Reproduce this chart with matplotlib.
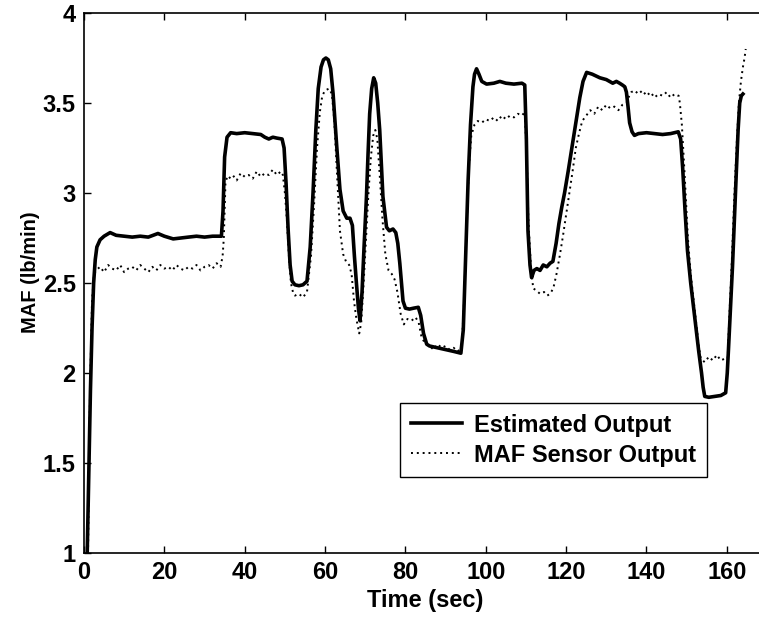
import matplotlib
matplotlib.use("Agg")
import matplotlib.pyplot as plt
from matplotlib.ticker import FuncFormatter

# ---------------- data ----------------
est_t = [0.8, 1.2, 1.6, 2.0, 2.4, 2.8, 3.2, 4.0, 5.0, 6.5, 8, 10, 12, 14, 16, 18.4, 20, 22.2, 24, 26, 28, 30, 32,
         34.2, 34.6, 35.0, 35.6, 36.5, 38, 40, 42, 44, 45, 46, 47, 48, 49.3, 49.8, 50.3, 50.8, 51.3, 51.8, 52.5,
         53.5, 54.5, 55.5, 56.3, 57.0, 57.7, 58.3, 59.0, 59.6, 60.2, 60.8, 61.4, 62.0, 62.9, 63.7, 64.5, 65.4,
         66.2, 66.8, 67.3, 67.8, 68.3, 68.7, 69.2, 69.7, 70.3, 70.7, 71.1, 71.6, 72.1, 72.6, 73.1, 73.6, 74.4,
         75.3, 76.0, 76.9, 77.6, 78.1, 78.6, 79.4, 80.0, 81, 82, 83.2, 83.8, 84.5, 85.3, 86, 88, 90, 92, 93.8,
         94.4, 95.0, 95.6, 96.2, 96.8, 97.2, 97.7, 98.3, 99.0, 100.2, 102, 103.5, 105, 107, 109.0, 109.7, 110.1,
         110.5, 111.0, 111.4, 112, 112.7, 113.5, 114.3, 115.2, 116.0, 116.7, 117.5, 118.2, 118.9, 119.6, 120.5,
         121.7, 122.6, 123.4, 124.2, 125.1, 126.5, 128.4, 130, 131.6, 132.5, 133.3, 134.0, 134.6, 135.0, 135.4,
         135.8, 136.4, 137.0, 138, 140, 142, 144, 146, 147.9, 148.5, 149.0, 149.6, 150.2, 151.0, 152.0, 153.0,
         153.7, 154.1, 154.5, 155.5, 157, 158.5, 159.7, 160.1, 160.4, 160.9, 161.4, 161.9, 162.4, 162.8, 163.2,
         163.6, 164.0]
est_v = [1.0, 1.45, 1.9, 2.25, 2.5, 2.63, 2.7, 2.74, 2.76, 2.78, 2.765, 2.76, 2.755, 2.76, 2.755, 2.775, 2.76,
         2.745, 2.75, 2.755, 2.76, 2.755, 2.76,
         2.76, 2.9, 3.2, 3.31, 3.335, 3.33, 3.335, 3.33, 3.325, 3.31, 3.30, 3.31, 3.305, 3.30, 3.25, 3.05, 2.8,
         2.6, 2.51, 2.49,
         2.485, 2.49, 2.51, 2.7, 3.0, 3.35, 3.58, 3.7, 3.74, 3.75, 3.74, 3.69, 3.55, 3.26, 3.02, 2.9, 2.86,
         2.86, 2.82, 2.65, 2.5, 2.36, 2.29, 2.45, 2.7, 2.98, 3.22, 3.44, 3.58, 3.64, 3.61, 3.5, 3.35, 2.98,
         2.81, 2.79, 2.80, 2.78, 2.72, 2.61, 2.40, 2.36, 2.355, 2.36, 2.365, 2.32, 2.22, 2.16, 2.15, 2.14, 2.13,
         2.12, 2.11,
         2.24, 2.65, 3.07, 3.38, 3.59, 3.66, 3.69, 3.66, 3.62, 3.605, 3.61, 3.62, 3.61, 3.605, 3.61, 3.60, 3.3,
         2.79, 2.6, 2.53, 2.57, 2.58, 2.57, 2.60, 2.59, 2.61, 2.62, 2.72, 2.83, 2.92, 3.0, 3.12,
         3.29, 3.42, 3.53, 3.62, 3.67, 3.66, 3.64, 3.63, 3.61, 3.62, 3.61, 3.60, 3.59, 3.56, 3.48,
         3.39, 3.34, 3.32, 3.33, 3.335, 3.33, 3.325, 3.33, 3.34, 3.30, 3.14, 2.9, 2.68, 2.5, 2.31, 2.12,
         2.0, 1.92, 1.87, 1.865, 1.87, 1.875, 1.89, 2.0, 2.13, 2.36, 2.59, 2.87, 3.14, 3.35, 3.5,
         3.54, 3.55]

sen_t = [1.0, 1.5, 2.0, 2.5, 3, 4, 5, 6, 7, 8, 9, 10, 11, 12, 13, 14, 15, 16, 17, 18, 19, 20, 21, 22, 23, 24,
         25, 26, 27, 28, 29, 30, 31, 32, 33, 34, 34.5, 34.8, 35.2, 35.6, 36, 37, 38, 39, 40, 41, 42, 43, 44, 45,
         46, 47, 48, 49, 49.5, 50, 50.5, 51, 51.5, 52, 52.5, 53.5, 54.5, 55.5, 56.5, 57.3, 58, 58.7, 59.3, 60,
         61, 61.7, 62.3, 63, 63.7, 64.5, 65.2, 66, 66.6, 67.2, 67.8, 68.5, 69, 69.6, 70.2, 70.8, 71.4, 72, 72.5,
         73, 73.6, 74.3, 75, 75.8, 76.6, 77.3, 78, 78.8, 79.6, 80.5, 81.5, 82.5, 83.3, 84, 85, 86, 87, 88, 89,
         90, 91, 92, 93, 94, 94.6, 95.2, 95.8, 96.4, 97.2, 98, 99, 100, 101, 102, 103, 104, 105, 106, 107, 108,
         109, 109.7, 110.2, 110.6, 111.2, 111.8, 112.5, 113.5, 114.5, 115.3, 116, 116.8, 117.6, 118.4, 119.2,
         120, 120.8, 121.6, 122.4, 123.2, 124, 125, 126, 127, 128, 129, 130, 131, 132, 133, 134, 135, 135.5,
         136.2, 137, 138, 139, 140, 141, 142, 143, 144, 145, 146, 147, 148, 148.3, 148.8, 149.5, 150.3, 151,
         152, 153, 153.5, 154.5, 155.5, 156.5, 157.5, 158.5, 159.5, 160.2, 160.6, 161.2, 161.8, 162.4, 163,
         163.5, 164, 164.4, 164.7]
sen_v = [1.0, 1.9, 2.4, 2.55, 2.57, 2.59, 2.56, 2.60, 2.58, 2.57, 2.60, 2.56, 2.58, 2.59, 2.57, 2.60, 2.58,
         2.56, 2.59, 2.57, 2.60, 2.58, 2.59, 2.57, 2.60, 2.58, 2.57, 2.59, 2.58, 2.60, 2.57, 2.59, 2.60, 2.58,
         2.61, 2.59, 2.65, 2.75, 3.05, 3.09, 3.08, 3.10, 3.07, 3.11, 3.09, 3.10, 3.08, 3.12, 3.09, 3.11, 3.10,
         3.13, 3.10, 3.12, 3.10, 3.0, 2.85, 2.65, 2.5, 2.45, 2.43, 2.44, 2.42, 2.45, 2.65, 2.95, 3.25, 3.45,
         3.54, 3.57, 3.58, 3.55, 3.4, 3.1, 2.79, 2.66, 2.62, 2.6, 2.55, 2.4, 2.3, 2.22, 2.28, 2.5, 2.75, 3.0,
         3.2, 3.32, 3.35, 3.3, 3.1, 2.85, 2.66, 2.57, 2.55, 2.52, 2.45, 2.33, 2.27, 2.3, 2.29, 2.31, 2.28, 2.2,
         2.16, 2.15, 2.13, 2.16, 2.14, 2.15, 2.13, 2.14, 2.12, 2.14, 2.4, 2.8, 3.15, 3.32, 3.38, 3.40, 3.39,
         3.41, 3.40, 3.42, 3.40, 3.43, 3.41, 3.43, 3.42, 3.44, 3.43, 3.45, 3.2, 2.85, 2.6, 2.47, 2.46, 2.44,
         2.45, 2.43, 2.44, 2.47, 2.55, 2.65, 2.76, 2.88, 3.0, 3.12, 3.25, 3.33, 3.4, 3.43, 3.46, 3.44, 3.48,
         3.46, 3.49, 3.47, 3.48, 3.46, 3.49, 3.5, 3.53, 3.56, 3.57, 3.55, 3.57, 3.54, 3.56, 3.53, 3.55, 3.54,
         3.56, 3.53, 3.55, 3.54, 3.5, 3.38, 3.1, 2.75, 2.55, 2.35, 2.15, 2.08, 2.06, 2.09, 2.07, 2.10, 2.07,
         2.08, 2.08, 2.3, 2.6, 2.95, 3.25, 3.5, 3.62, 3.7, 3.75, 3.8]

x_ticks = [0, 20, 40, 60, 80, 100, 120, 140, 160]
y_ticks = [1, 1.5, 2, 2.5, 3, 3.5, 4]
labels = ["Estimated Output", "MAF Sensor Output"]
x_label = "Time (sec)"
y_label = "MAF (lb/min)"

# ---------------- plot ----------------
plt.rcParams['font.family'] = ['Liberation Sans', 'DejaVu Sans']
plt.rcParams['font.weight'] = 'bold'

fig = plt.figure(figsize=(7.59, 6.18), dpi=100)
ax = fig.add_axes([84 / 759, 65 / 618, 675 / 759, 540 / 618])

ax.plot(est_t, est_v, color='black', lw=2.6, solid_joinstyle='round', label=labels[0])
ax.plot(sen_t, sen_v, color='black', lw=1.4, linestyle=(0, (1, 2.0)), label=labels[1])

ax.set_xlim(0, 168)
ax.set_ylim(1, 4)
ax.set_xticks(x_ticks)
ax.set_yticks(y_ticks)
ax.yaxis.set_major_formatter(FuncFormatter(lambda v, p: f"{v:g}"))
ax.tick_params(direction='in', length=5, width=1, top=True, right=False,
               labelsize=17, pad=6)
for lab in ax.get_xticklabels() + ax.get_yticklabels():
    lab.set_fontweight('bold')
for s in ['left', 'bottom', 'top']:
    ax.spines[s].set_linewidth(1.2)
ax.spines['right'].set_visible(False)

ax.set_xlabel(x_label, fontsize=17, fontweight='bold', va='center')
ax.set_ylabel(y_label, fontsize=14.5, fontweight='bold', va='center')
ax.xaxis.set_label_coords((425 - 84) / 675, (553 - 600) / 540)
ax.yaxis.set_label_coords((30 - 84) / 675, (553 - 272) / 540)

leg = ax.legend(loc='upper left', bbox_to_anchor=(0.468, 0.278), borderaxespad=0,
                fancybox=False, edgecolor='black', framealpha=1,
                prop={'size': 17, 'weight': 'bold'}, handlelength=2.2,
                handletextpad=0.5, borderpad=0.45, labelspacing=0.3)
leg.get_frame().set_linewidth(1.0)

fig.savefig("out.png", dpi=100)
